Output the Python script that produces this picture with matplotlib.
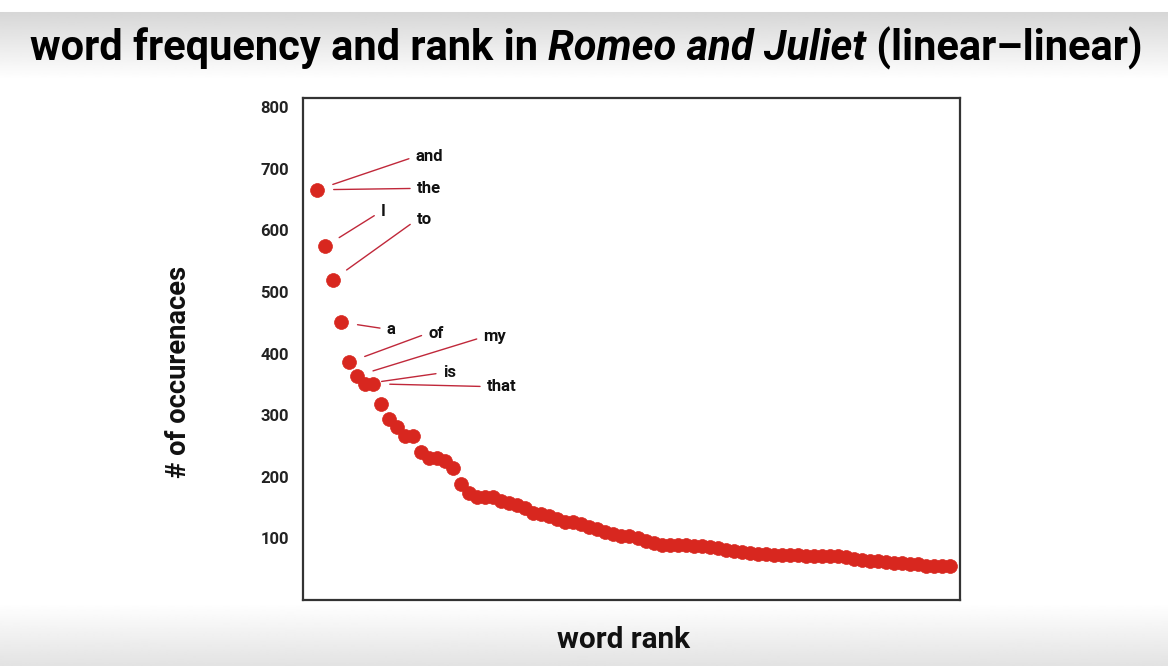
import numpy as np
import matplotlib.pyplot as plt

plt.rcParams['font.family'] = ['Roboto', 'DejaVu Sans']
plt.rcParams['font.stretch'] = 'condensed'

# word rank 1..80 and number of occurrences
ranks = list(range(1, 81))
counts = [666, 574, 520, 451, 386, 364, 351, 351, 318, 294,
          281, 267, 267, 241, 231, 231, 225, 215, 189, 173,
          168, 168, 168, 160, 157, 155, 150, 142, 139, 136,
          131, 126, 126, 123, 118, 115, 110, 107, 104, 104,
          100, 95, 92, 90, 89, 89, 89, 87, 87, 86,
          84, 81, 79, 78, 76, 74, 74, 73, 73, 73,
          73, 71, 71, 71, 71, 71, 70, 66, 65, 63,
          63, 61, 60, 60, 58, 58, 56, 56, 55, 55]

# labelled words: (word, rank, text offset in points)
labels = [('and', 1, (71, 24)), ('the', 1, (72, 1)), ('I', 2, (40, 25)),
          ('to', 3, (60, 43)), ('a', 4, (33, -5)), ('of', 5, (57, 21)),
          ('my', 6, (91, 28)), ('is', 7, (56, 8)), ('that', 8, (82, -2))]

yticks = [100, 200, 300, 400, 500, 600, 700, 800]

W, H = 1168, 666
fig = plt.figure(figsize=(W / 100, H / 100), dpi=100)
renderer = fig.canvas.get_renderer()


def fit_width(texts, target, size):
    # rescale font size so that the texts together span target pixels
    total = sum(t.get_window_extent(renderer).width for t in texts)
    for t in texts:
        t.set_fontsize(size * target / total)


# grey gradient bands behind the slide
bg = fig.add_axes([0, 0, 1, 1])
bg.set_zorder(-10)
shade = np.ones(H)
shade[12:80] = np.linspace(0.84, 1.0, 68)
shade[603:] = np.linspace(1.0, 0.89, H - 603)
bg.imshow(np.tile(shade[:, None], (1, 2)), cmap='gray', vmin=0, vmax=1,
          aspect='auto', extent=[0, 1, 0, 1], interpolation='bilinear')
bg.axis('off')

ax = fig.add_axes([303 / W, 1 - 600 / H, 657 / W, 502 / H])
ax.set_facecolor('white')
red = '#d8271f'
ax.plot(ranks, counts, 'o', ms=10, color=red, mec=red, mew=0.5)

for word, r, off in labels:
    ax.annotate(word, xy=(r, counts[r - 1]), xytext=off, textcoords='offset points',
                ha='left', va='center', fontsize=12, fontweight='bold', color='#111111',
                arrowprops=dict(arrowstyle='-', color='#c0283a', lw=1.0,
                                shrinkA=3, shrinkB=12, relpos=(0, 0.5)))

ax.set_xlim(-0.75, 81.25)
ax.set_ylim(0, 815)
ax.set_xticks([])
ax.set_yticks(yticks)
ax.set_yticklabels([str(v) for v in yticks], fontsize=12, fontweight='bold', color='#222222')
ax.tick_params(axis='y', length=0, pad=10)
for s in ax.spines.values():
    s.set_linewidth(1.6)
    s.set_color('#333333')

ylab = fig.text(178 / W, 1 - 372 / H, '# of occurenaces', rotation=90, ha='center', va='center',
                fontsize=24, fontweight='bold', color='#111111')
xlab = fig.text(623 / W, 1 - 640 / H, 'word rank', ha='center', va='center',
                fontsize=24, fontweight='bold', color='#111111')
fit_width([xlab], 133, 24)
total = ylab.get_window_extent(renderer).height
ylab.set_fontsize(24 * 213 / total)

# title in three pieces, the play name in italics
parts = [('word frequency and rank in ', 'normal'), ('Romeo and Juliet', 'italic'),
         (' (linear\u2013linear)', 'normal')]
texts = []
for s, st in parts:
    t = fig.text(0, 1 - 60 / H, s, fontsize=34, fontweight='bold', style=st,
                 color='black', va='baseline', ha='left')
    texts.append(t)
fit_width(texts, 1112, 34)
widths = [t.get_window_extent(renderer).width for t in texts]
x = 586 - sum(widths) / 2
for t, w in zip(texts, widths):
    t.set_x(x / W)
    x += w

fig.savefig('out.png', dpi=100)
